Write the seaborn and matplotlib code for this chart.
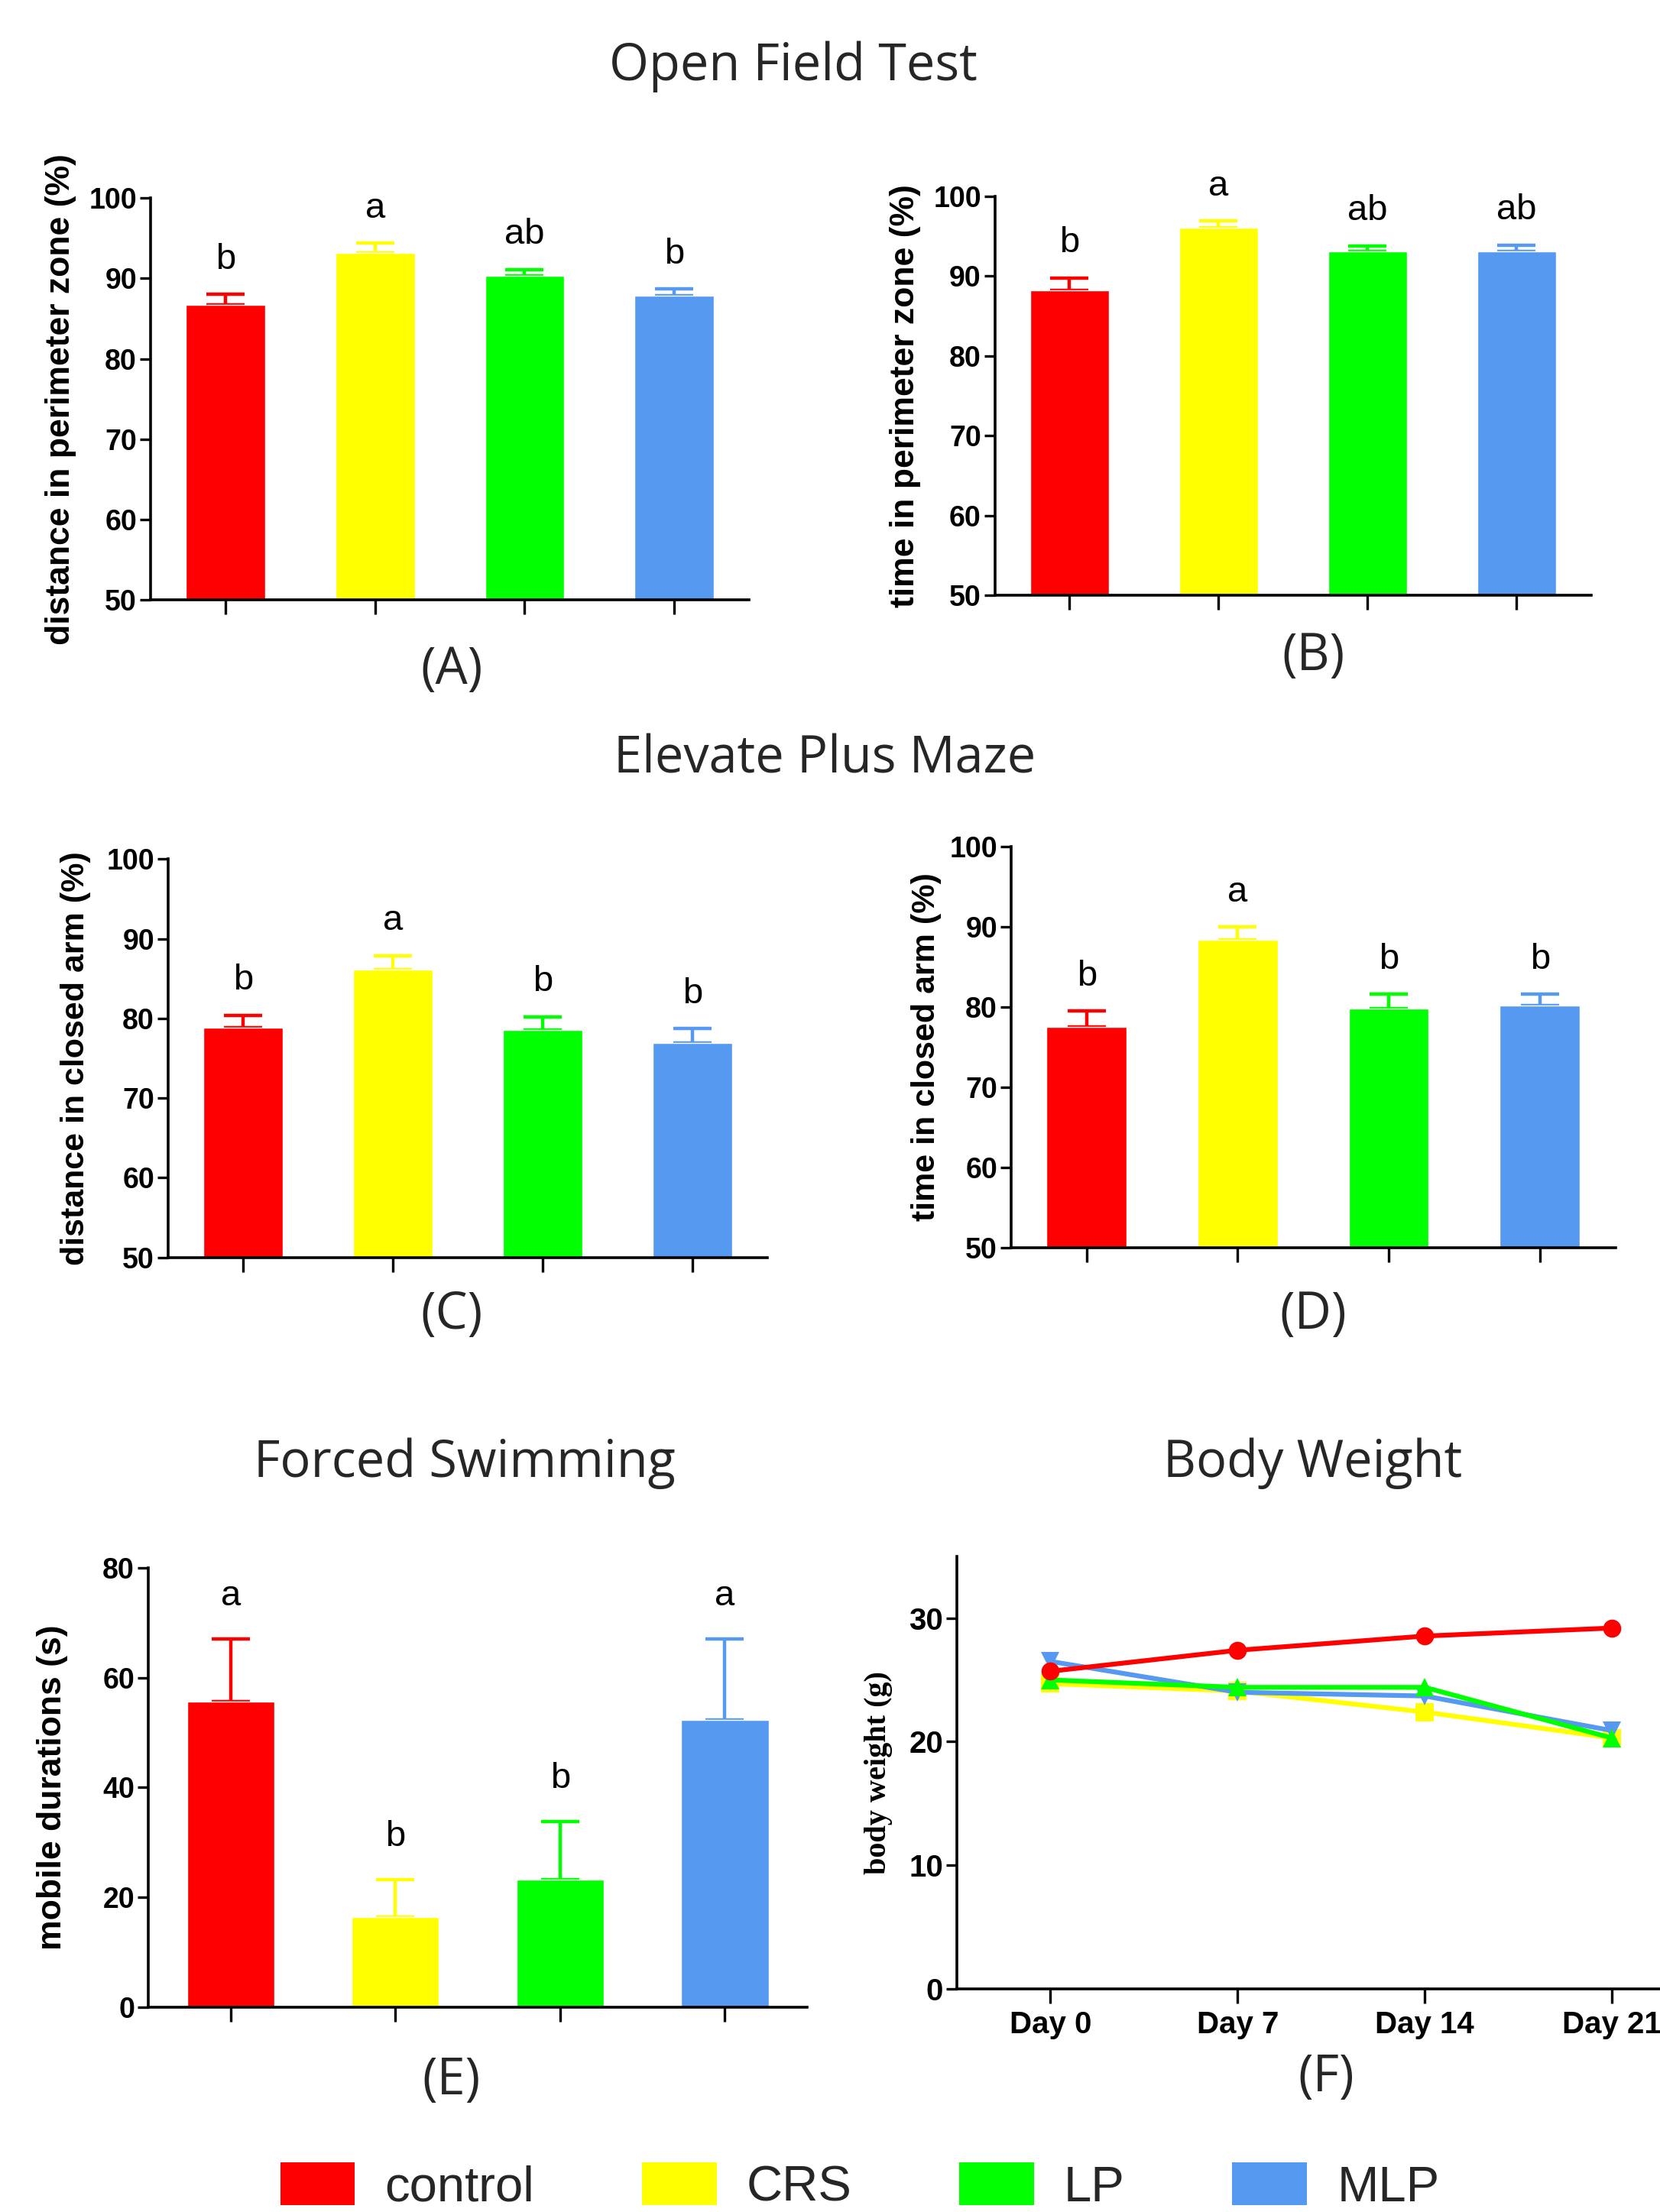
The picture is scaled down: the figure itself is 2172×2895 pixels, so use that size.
import numpy as np
import pandas as pd
import matplotlib
matplotlib.use("Agg")
import matplotlib.pyplot as plt
from matplotlib.patches import Patch
import seaborn as sns

# ---------------- data ----------------
groups = ["control", "CRS", "LP", "MLP"]
colors = ["#FF0000", "#FFFF00", "#00FF00", "#5599F0"]

a_mean = [86.7, 93.2, 90.3, 87.8]
a_sem = [1.3, 1.2, 0.8, 0.9]
a_letters = ["b", "a", "ab", "b"]

b_mean = [88.2, 96.1, 93.1, 93.1]
b_sem = [1.6, 0.8, 0.7, 0.8]
b_letters = ["b", "a", "ab", "ab"]

c_mean = [78.8, 86.1, 78.5, 76.9]
c_sem = [1.6, 1.8, 1.7, 1.8]
c_letters = ["b", "a", "b", "b"]

d_mean = [77.5, 88.4, 79.8, 80.2]
d_sem = [2.0, 1.6, 1.8, 1.4]
d_letters = ["b", "a", "b", "b"]

e_mean = [55.6, 16.4, 23.2, 52.3]
e_sem = [11.4, 6.8, 10.6, 14.7]
e_letters = ["a", "b", "b", "a"]

days = ["Day 0", "Day 7", "Day 14", "Day 21"]
bw_control = [25.7, 27.4, 28.55, 29.2]
bw_crs = [24.7, 24.1, 22.4, 20.3]
bw_lp = [25.0, 24.4, 24.4, 20.3]
bw_mlp = [26.5, 24.0, 23.7, 20.9]

# ---------------- style ----------------
sns.set_theme(style="ticks")
plt.rcParams['font.family'] = ['Liberation Sans', 'DejaVu Sans']
TITLE_FONT = ['Open Sans', 'DejaVu Sans']

fig = plt.figure(figsize=(21.72, 28.95), dpi=100)


def style_axis(ax, tick_size):
    sns.despine(ax=ax)
    for sp in ("left", "bottom"):
        ax.spines[sp].set_linewidth(2.6)
        ax.spines[sp].set_color("black")
    ax.tick_params(axis="y", length=10, width=2.4, labelsize=tick_size, pad=3, colors="black")
    ax.tick_params(axis="x", length=14, width=2.4, colors="black")
    for lbl in ax.get_yticklabels():
        lbl.set_fontweight("bold")


def bar_panel(rect, means, sems, letters, ylim, yticks, ylabel, label_x,
              letter_off, ylabel_size):
    ax = fig.add_axes(rect)
    df = pd.DataFrame({"group": groups, "value": means})
    sns.barplot(data=df, x="group", y="value", hue="group", palette=colors,
                width=0.53, saturation=1, legend=False, ax=ax, zorder=2)
    for i, (m, s, c) in enumerate(zip(means, sems, colors)):
        ax.errorbar(i, m, yerr=[[0], [s]], fmt="none", ecolor=c,
                    elinewidth=3.2, capsize=18, capthick=3.2, zorder=1)
        ax.annotate(letters[i], xy=(i, m + s), xytext=(0, letter_off),
                    textcoords="offset points", ha="center", va="baseline",
                    fontsize=34, color="black")
    ax.set_xlim(-0.5, 3.5)
    ax.set_ylim(*ylim)
    ax.set_yticks(yticks)
    ax.set_xticks(range(len(groups)))
    ax.set_xticklabels([])
    ax.set_xlabel("")
    ax.set_ylabel(ylabel, fontsize=ylabel_size, fontweight="bold", color="black")
    ax.yaxis.set_label_coords(label_x, 0.5)
    style_axis(ax, 27)
    return ax


ticks_pct = [50, 60, 70, 80, 90, 100]
bar_panel([0.0907, 0.7288, 0.3605, 0.1817], a_mean, a_sem, a_letters, (50, 100),
          ticks_pct, "distance in perimeter zone (%)", -0.124, 24, 32)
bar_panel([0.5994, 0.7309, 0.3590, 0.1803], b_mean, b_sem, b_letters, (50, 100),
          ticks_pct, "time in perimeter zone (%)", -0.124, 24, 32)
bar_panel([0.1013, 0.4316, 0.3610, 0.1800], c_mean, c_sem, c_letters, (50, 100),
          ticks_pct, "distance in closed arm (%)", -0.129, 24, 31)
bar_panel([0.6091, 0.4360, 0.3640, 0.1813], d_mean, d_sem, d_letters, (50, 100),
          ticks_pct, "time in closed arm (%)", -0.115, 24, 31)
bar_panel([0.0893, 0.0926, 0.3970, 0.1986], e_mean, e_sem, e_letters, (0, 80),
          [0, 20, 40, 60, 80], "mobile durations (s)", -0.122, 32, 32)

# ---------------- body weight ----------------
axf = fig.add_axes([0.5764, 0.1009, 0.4510, 0.1955])
series = [("CRS", bw_crs, "s"), ("MLP", bw_mlp, "v"), ("LP", bw_lp, "^"),
          ("control", bw_control, "o")]
for name, vals, mk in series:
    d = pd.DataFrame({"day": range(len(days)), "weight": vals})
    sns.lineplot(data=d, x="day", y="weight", color=colors[groups.index(name)],
                 marker=mk, markersize=17, markeredgewidth=0, linewidth=4.5,
                 ax=axf, legend=False)
axf.set_xlim(-0.5, 3.5)
axf.set_ylim(0, 35)
axf.set_yticks([0, 10, 20, 30])
axf.set_xticks(range(len(days)))
axf.set_xticklabels(days, fontsize=29, fontweight="bold")
axf.set_xlabel("")
axf.set_ylabel("body weight (g)", fontsize=29, fontweight="bold",
               family=["Liberation Serif", "DejaVu Serif"], color="black")
axf.yaxis.set_label_coords(-0.086, 0.5)
style_axis(axf, 29)
axf.tick_params(axis="x", pad=6)

# ---------------- titles and panel labels ----------------
fig.text(0.478, 0.970, "Open Field Test", fontsize=48, family=TITLE_FONT,
         ha="center", va="center")
fig.text(0.497, 0.6567, "Elevate Plus Maze", fontsize=48, family=TITLE_FONT,
         ha="center", va="center")
fig.text(0.280, 0.3385, "Forced Swimming", fontsize=48, family=TITLE_FONT,
         ha="center", va="center")
fig.text(0.791, 0.3385, "Body Weight", fontsize=48, family=TITLE_FONT,
         ha="center", va="center")

for txt, x, y in [("(A)", 0.272, 0.697), ("(B)", 0.791, 0.7033),
                  ("(C)", 0.272, 0.4055), ("(D)", 0.791, 0.4055),
                  ("(E)", 0.272, 0.0593), ("(F)", 0.799, 0.0606)]:
    fig.text(x, y, txt, fontsize=48, family=TITLE_FONT, ha="center", va="center")

# ---------------- legend ----------------
handles = [Patch(facecolor=c, edgecolor="none", label=g) for g, c in zip(groups, colors)]
fig.legend(handles=handles, loc="center", bbox_to_anchor=(0.518, 0.0115), ncol=4,
           frameon=False, fontsize=47, handlelength=1.5, handleheight=0.95,
           handletextpad=0.6, columnspacing=2.15, borderpad=0, borderaxespad=0)

fig.savefig("out.png", dpi=100, facecolor="white")
